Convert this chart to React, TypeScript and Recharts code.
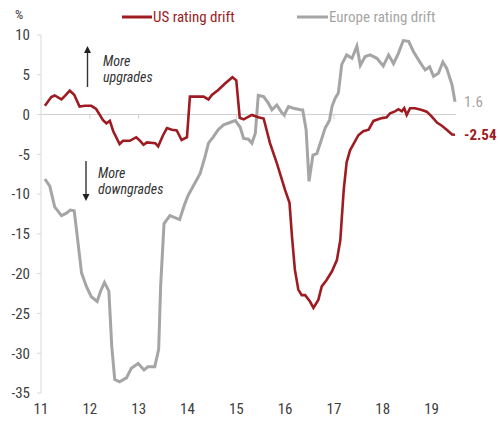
import React from 'react';
import { LineChart, Line, XAxis, YAxis, ReferenceLine } from 'recharts';

const usDates = [
  11.08, 11.21, 11.28, 11.42, 11.5, 11.59, 11.68, 11.79, 11.9, 12.03, 12.13, 12.27, 12.34, 12.41,
  12.48, 12.61, 12.68, 12.82, 12.95, 13.03, 13.1, 13.17, 13.34, 13.4, 13.5, 13.58, 13.68, 13.78,
  13.88, 13.99, 14.05, 14.19, 14.33, 14.43, 14.5, 14.63, 14.77, 14.92, 15.0, 15.07, 15.15, 15.32,
  15.45, 15.56, 15.69, 15.83, 16.0, 16.09, 16.14, 16.2, 16.27, 16.34, 16.41, 16.51, 16.58, 16.68,
  16.75, 16.85, 16.96, 17.06, 17.13, 17.2, 17.26, 17.33, 17.5, 17.6, 17.71, 17.81, 17.95, 18.08,
  18.15, 18.25, 18.32, 18.39, 18.44, 18.49, 18.56, 18.66, 18.8, 18.9, 19.01, 19.11, 19.21, 19.31,
  19.42, 19.48,
];
const usValues = [
  1.1, 2.2, 2.4, 1.9, 2.4, 3.0, 2.5, 1.0, 1.1, 1.1, 0.7, -0.7, -1.1, -0.8,
  -2.1, -3.7, -3.3, -3.3, -2.85, -3.3, -3.8, -3.5, -3.6, -4.0, -2.6, -1.7, -1.9, -2.0,
  -3.2, -2.85, 2.25, 2.25, 2.25, 1.9, 2.46, 3.1, 3.9, 4.7, 4.3, -0.4, -0.6, -0.05,
  -0.35, -0.5, -3.6, -6.1, -9.5, -11.1, -15.3, -19.5, -22.0, -22.7, -22.7, -23.5, -24.3, -23.3,
  -21.6, -20.8, -19.7, -18.3, -15.8, -9.5, -6.0, -4.5, -2.6, -2.1, -1.9, -0.8, -0.5, -0.35,
  0.16, 0.4, 0.67, 0.4, 0.8, -0.05, 0.8, 0.8, 0.58, 0.36, -0.3, -1.0, -1.4, -1.9,
  -2.5, -2.54,
];

const euDates = [
  11.08, 11.18, 11.28, 11.42, 11.52, 11.6, 11.68, 11.76, 11.83, 11.93, 12.03, 12.15, 12.22, 12.3,
  12.39, 12.45, 12.51, 12.61, 12.75, 12.85, 12.99, 13.11, 13.19, 13.33, 13.41, 13.45, 13.52, 13.64,
  13.84, 13.93, 14.01, 14.26, 14.36, 14.43, 14.53, 14.63, 14.74, 14.87, 14.98, 15.08, 15.15, 15.25,
  15.32, 15.39, 15.45, 15.56, 15.66, 15.73, 15.83, 15.93, 15.98, 16.07, 16.17, 16.31, 16.36, 16.43,
  16.49, 16.57, 16.65, 16.72, 16.82, 16.91, 16.96, 17.02, 17.09, 17.16, 17.26, 17.37, 17.47, 17.54,
  17.64, 17.74, 17.88, 18.01, 18.12, 18.22, 18.32, 18.42, 18.53, 18.63, 18.77, 18.87, 18.96, 19.04,
  19.14, 19.23, 19.31, 19.42, 19.48,
];
const euValues = [
  -8.1, -9.0, -11.6, -12.7, -12.4, -12.0, -12.1, -16.2, -19.9, -21.6, -22.9, -23.5, -22.2, -21.1,
  -22.2, -29.2, -33.3, -33.6, -33.1, -31.9, -31.3, -32.1, -31.7, -31.7, -29.5, -21.6, -13.7, -12.7,
  -13.2, -11.5, -10.2, -7.4, -5.3, -3.6, -2.8, -1.9, -1.3, -1.0, -0.76, -1.6, -3.0, -3.1,
  -3.6, -2.35, 2.4, 2.25, 1.4, 0.6, 1.2, 0.24, -0.05, 1.0, 0.8, 0.6, 0.58, -1.9,
  -8.4, -5.1, -4.9, -3.6, -1.7, -0.7, 1.0, 2.0, 2.7, 6.3, 7.5, 7.07, 8.6, 6.2,
  7.3, 7.5, 7.07, 6.1, 7.5, 6.4, 7.7, 9.3, 9.2, 7.9, 6.5, 5.6, 6.0, 4.8,
  5.2, 6.6, 5.8, 3.7, 1.6,
];

const yearTicks = [11, 12, 13, 14, 15, 16, 17, 18, 19];
const valueTicks = [10, 5, 0, -5, -10, -15, -20, -25, -30, -35];
const usName = 'US rating drift';
const euName = 'Europe rating drift';

const usData = usDates.map((x, i) => ({ x, v: usValues[i] }));
const euData = euDates.map((x, i) => ({ x, v: euValues[i] }));

const RED = '#9e1b22';
const GRAY = '#a5a5a5';
const FONT = "'Liberation Sans Narrow', 'Roboto Condensed', Roboto, sans-serif";

const endLabel = (n: number, color: string, text: string, bold: boolean) => (props: any) => {
  if (props.index !== n - 1) return null;
  return (
    <text
      x={props.x + 9}
      y={props.y + 5}
      fill={color}
      fontSize={15}
      fontWeight={bold ? 700 : 400}
      fontFamily={FONT}
    >
      {text}
    </text>
  );
};

const Arrow = ({ x, y1, y2 }: { x: number; y1: number; y2: number }) => {
  const dir = y2 < y1 ? 1 : -1;
  return (
    <g stroke="#333" fill="#222">
      <line x1={x} y1={y1} x2={x} y2={y2 + dir * 6} strokeWidth={1.4} />
      <polygon points={`${x - 3.5},${y2 + dir * 7} ${x + 3.5},${y2 + dir * 7} ${x},${y2}`} stroke="none" />
    </g>
  );
};

export default function App() {
  return (
    <div style={{ position: 'absolute', left: 0, top: 0, width: 500, height: 427, background: '#fff' }}>
      <LineChart width={500} height={427} margin={{ top: 35, right: 44, left: 0, bottom: 4 }}>
        <XAxis
          type="number"
          dataKey="x"
          domain={[11, 19.5]}
          ticks={yearTicks}
          axisLine={false}
          tickLine={false}
          tickSize={0}
          tickMargin={10}
          height={30}
          tick={{ fontSize: 15, fill: '#404040', fontFamily: FONT }}
        />
        <YAxis
          type="number"
          domain={[-35, 10]}
          ticks={valueTicks}
          width={41}
          interval={0}
          axisLine={{ stroke: '#d9d9d9' }}
          tickLine={{ stroke: '#d9d9d9' }}
          tickSize={4}
          tickMargin={7}
          tick={{ fontSize: 15, fill: '#404040', fontFamily: FONT }}
        />
        <ReferenceLine y={0} stroke="#cfcfcf" strokeWidth={1} />
        {yearTicks.slice(1).map((t) => (
          <ReferenceLine
            key={t}
            segment={[{ x: t, y: 0 }, { x: t, y: -0.55 }]}
            stroke="#cfcfcf"
          />
        ))}
        <Line
          data={euData}
          dataKey="v"
          name={euName}
          type="linear"
          stroke={GRAY}
          strokeWidth={3}
          dot={false}
          isAnimationActive={false}
          label={endLabel(euData.length, GRAY, '1.6', false)}
        />
        <Line
          data={usData}
          dataKey="v"
          name={usName}
          type="linear"
          stroke={RED}
          strokeWidth={2.6}
          dot={false}
          isAnimationActive={false}
          label={endLabel(usData.length, RED, '-2.54', true)}
        />
      </LineChart>
      <svg
        width={500}
        height={427}
        style={{ position: 'absolute', left: 0, top: 0, pointerEvents: 'none' }}
        fontFamily={FONT}
      >
        <text x={15} y={19} fontSize={13} fill="#404040">%</text>
        <line x1={122} y1={17} x2={152} y2={17} stroke={RED} strokeWidth={3} />
        <text x={153} y={22} fontSize={15} fill={RED}>{usName}</text>
        <line x1={297} y1={17} x2={328} y2={17} stroke={GRAY} strokeWidth={3} />
        <text x={329} y={22} fontSize={15} fill={GRAY}>{euName}</text>
        <Arrow x={87.5} y1={87} y2={46} />
        <text x={103} y={66} fontSize={14} fontStyle="italic" fill="#333">More</text>
        <text x={103} y={82} fontSize={14} fontStyle="italic" fill="#333">upgrades</text>
        <Arrow x={86} y1={161} y2={201} />
        <text x={98} y={178} fontSize={14} fontStyle="italic" fill="#333">More</text>
        <text x={98} y={194} fontSize={14} fontStyle="italic" fill="#333">downgrades</text>
      </svg>
    </div>
  );
}
